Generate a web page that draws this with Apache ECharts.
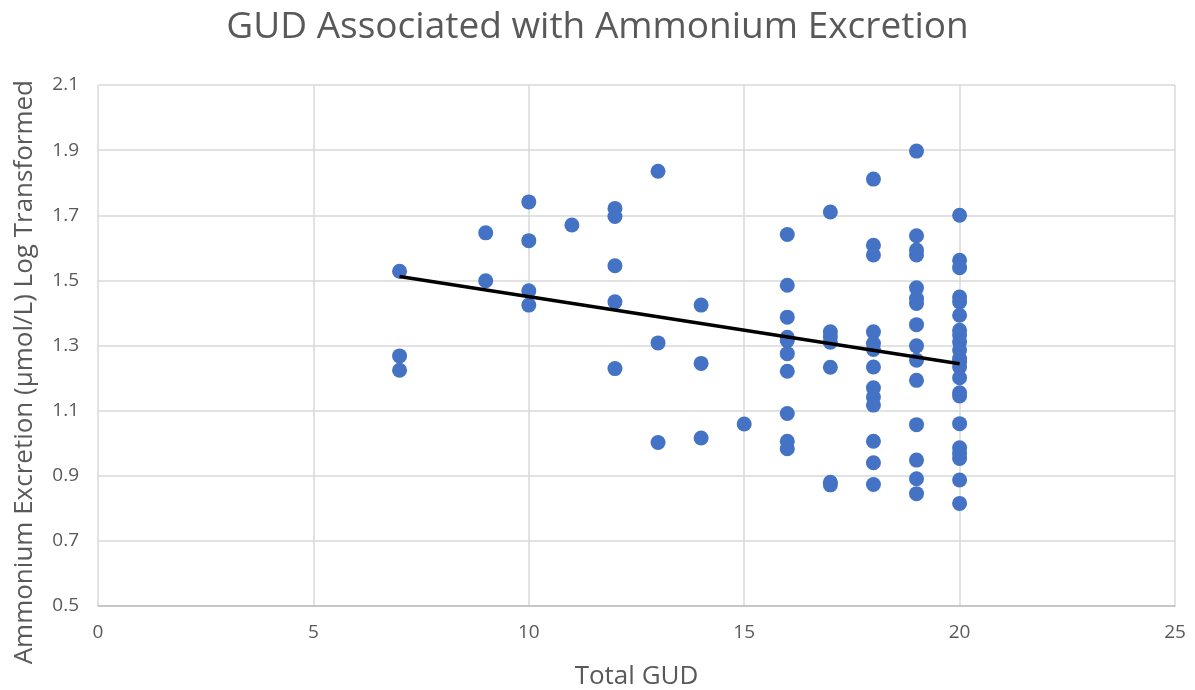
<!DOCTYPE html>
<html>
<head>
<meta charset="utf-8">
<script src="https://cdn.jsdelivr.net/npm/echarts@6/dist/echarts.min.js"></script>
<style>
  html, body { margin: 0; padding: 0; background: #fff; }
  #main { width: 1195px; height: 690px; }
</style>
</head>
<body>
<div id="main"></div>
<script>
var chartDom = document.getElementById('main');
var myChart = echarts.init(chartDom);
var option;

// Total GUD values (x), one entry per point
const gud = [
  7, 7, 7,
  9, 9,
  10, 10, 10, 10,
  11,
  12, 12, 12, 12, 12,
  13, 13, 13,
  14, 14, 14,
  15,
  16, 16, 16, 16, 16, 16, 16, 16, 16, 16,
  17, 17, 17, 17, 17, 17, 17,
  18, 18, 18, 18, 18, 18, 18, 18, 18, 18, 18, 18, 18,
  19, 19, 19, 19, 19, 19, 19, 19, 19, 19, 19, 19, 19, 19, 19,
  20, 20, 20, 20, 20, 20, 20, 20, 20, 20, 20, 20, 20, 20, 20, 20, 20, 20, 20, 20, 20, 20
];
// Ammonium excretion (log transformed), same order
const ammonium = [
  1.528, 1.268, 1.224,
  1.646, 1.499,
  1.741, 1.622, 1.468, 1.424,
  1.670,
  1.721, 1.696, 1.545, 1.434, 1.229,
  1.835, 1.308, 1.002,
  1.424, 1.245, 1.016,
  1.059,
  1.641, 1.485, 1.387, 1.325, 1.315, 1.275, 1.221, 1.091, 1.006, 0.983,
  1.710, 1.342, 1.327, 1.310, 1.233, 0.880, 0.872,
  1.811, 1.608, 1.578, 1.342, 1.306, 1.288, 1.234, 1.170, 1.142, 1.117, 1.006, 0.940, 0.873,
  1.897, 1.637, 1.593, 1.578, 1.477, 1.444, 1.429, 1.364, 1.299, 1.255, 1.193, 1.057, 0.948, 0.891, 0.845,
  1.700, 1.562, 1.539, 1.449, 1.434, 1.393, 1.347, 1.332, 1.311, 1.286, 1.260, 1.250, 1.234, 1.201, 1.155, 1.145, 1.060, 0.986, 0.968, 0.953, 0.887, 0.815
];
// linear trendline end points
const trendX = [7, 20];
const trendY = [1.512, 1.244];

const points = gud.map((x, i) => [x, ammonium[i]]);
const trend = trendX.map((x, i) => [x, trendY[i]]);

const font = '"Open Sans", "Noto Sans", sans-serif';

option = {
  animation: false,
  title: {
    text: 'GUD Associated with Ammonium Excretion',
    left: 'center',
    top: 4,
    textStyle: { fontFamily: font, fontSize: 37, fontWeight: 'normal', color: '#595959' }
  },
  // y axis title placed by hand: in the reference it sits lower than the plot centre
  graphic: [{
    type: 'text',
    left: 12,
    top: 80,
    rotation: Math.PI / 2,
    style: {
      text: 'Ammonium Excretion (µmol/L) Log Transformed',
      font: '26px ' + font,
      fill: '#595959'
    }
  }],
  grid: { left: 98, right: 20, top: 85, bottom: 84, outerBoundsMode: 'none' },
  xAxis: {
    type: 'value',
    min: 0, max: 25, interval: 5,
    name: 'Total GUD',
    nameLocation: 'middle',
    nameGap: 58,
    nameTextStyle: { fontFamily: font, fontSize: 26, color: '#595959' },
    axisLine: { show: true, lineStyle: { color: '#bfbfbf', width: 1.5 } },
    axisTick: { show: false },
    axisLabel: { fontFamily: font, fontSize: 19, color: '#595959', margin: 17 },
    splitLine: { lineStyle: { color: '#d9d9d9', width: 1.5 } }
  },
  yAxis: {
    type: 'value',
    min: 0.5, max: 2.1, interval: 0.2,
    axisLine: { show: false },
    axisTick: { show: false },
    axisLabel: {
      fontFamily: font, fontSize: 19, color: '#595959', margin: 19,
      formatter: v => v.toFixed(1)
    },
    splitLine: { lineStyle: { color: '#d9d9d9', width: 1.5 } }
  },
  series: [
    {
      type: 'scatter',
      data: points,
      symbolSize: 15,
      itemStyle: { color: '#4472C4', opacity: 1 },
      z: 2
    },
    {
      type: 'line',
      data: trend,
      showSymbol: false,
      lineStyle: { color: '#000', width: 3.5 },
      z: 3
    }
  ]
};

option && myChart.setOption(option);
</script>
</body>
</html>
